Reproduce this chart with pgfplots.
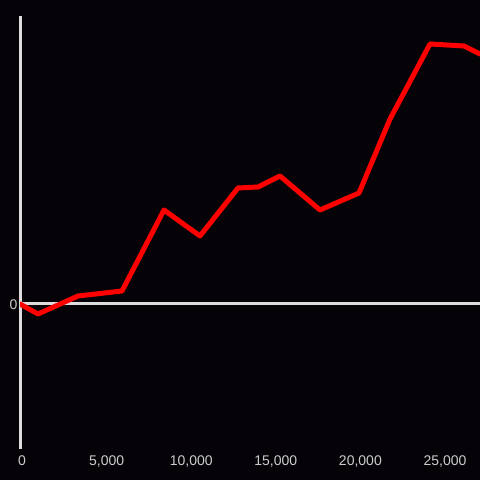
\documentclass[border=0pt]{standalone}
\usepackage{pgfplots}
\pgfplotsset{compat=1.18}
\usepackage{fontspec}
\setmainfont{Liberation Sans}
\definecolor{bg}{HTML}{050307}
\definecolor{axisgray}{HTML}{DDDDDD}
\definecolor{ticklab}{HTML}{CCCCCC}
\definecolor{linered}{HTML}{FF0000}
\begin{document}
\begin{tikzpicture}[x=1bp,y=1bp]
\fill[bg] (0,0) rectangle (480,480);
\path[use as bounding box] (0,0) rectangle (480,480);
\begin{axis}[
  at={(20bp,31bp)}, anchor=south west,
  scale only axis, width=460bp, height=433bp,
  xmin=0, xmax=27187, ymin=-145, ymax=288,
  axis x line=bottom, axis y line=left,
  x axis line style={draw=none,-},
  y axis line style={draw=axisgray,line width=3bp,-},
  xtick={0,5000,10000,15000,20000,25000},
  ytick={0},
  major tick length=0pt,
  scaled x ticks=false,
  /pgf/number format/.cd, 1000 sep={,}, assume math mode=true, /pgfplots/.cd,
  tick label style={font=\fontsize{14bp}{16bp}\selectfont, text=ticklab},
  xticklabel style={yshift=-3bp, xshift=2bp},
  yticklabel style={xshift=1bp, yshift=-1bp},
  clip=true,
]
\draw[axisgray, line width=3bp] (axis cs:0,0) -- (axis cs:27187,0);
\addplot[linered, line width=5bp, line join=round, line cap=round] coordinates {
(0,0) (1064,-10) (3428,8) (6028,13) (8511,94) (10638,68) (12884,116) (14066,117)
(15366,128) (17730,94) (20035,111) (21868,185) (24232,260) (26241,258) (27187,250)
};
\end{axis}
\end{tikzpicture}
\end{document}
